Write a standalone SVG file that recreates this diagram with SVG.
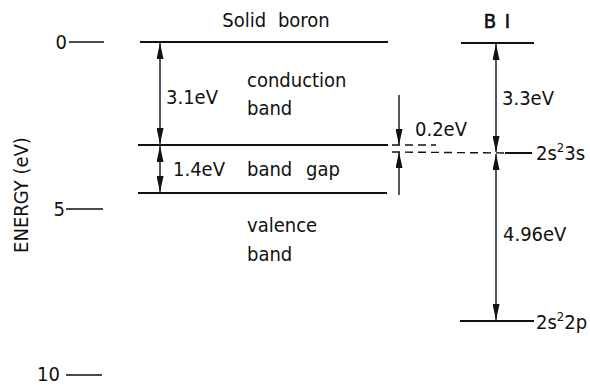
<svg xmlns="http://www.w3.org/2000/svg" width="590" height="385" viewBox="0 0 590 385">
<defs>
<style>
text{font-family:"DejaVu Sans Condensed","DejaVu Sans",sans-serif;font-size:20px;fill:#111;font-stretch:condensed}
.ln{stroke:#111;stroke-width:2;fill:none}
.ar{stroke:#111;stroke-width:1.4;fill:none}
.ds{stroke:#111;stroke-width:1.4;fill:none;stroke-dasharray:8 5}
</style>
<marker id="ah" viewBox="0 0 16 7" refX="16" refY="3.5" markerWidth="16" markerHeight="7" markerUnits="userSpaceOnUse" orient="auto-start-reverse">
<path d="M0,0 L16,3.5 L0,7 Z" fill="#111"/>
</marker>
</defs>
<rect width="590" height="385" fill="#fff"/>
<g id="axis">
<text x="22" y="195" text-anchor="middle" transform="rotate(-90 22 195)" dominant-baseline="middle" font-size="19">ENERGY (eV)</text>
<text x="67" y="49" text-anchor="end">0</text>
<line class="ar" x1="69" y1="42" x2="104" y2="42"/>
<text x="65" y="216" text-anchor="end">5</text>
<line class="ar" x1="66" y1="209" x2="103" y2="209"/>
<text x="60" y="381" text-anchor="end" font-size="19">10</text>
<line class="ar" x1="66" y1="375" x2="102" y2="375"/>
</g>
<g id="solid-boron">
<text x="276" y="27" text-anchor="middle" word-spacing="6">Solid boron</text>
<line class="ln" x1="140" y1="42" x2="388" y2="42"/>
<line class="ln" x1="138" y1="145" x2="388" y2="145"/>
<line class="ln" x1="138" y1="193" x2="387" y2="193"/>
<text x="247" y="87">conduction</text>
<text x="247" y="115">band</text>
<text x="247" y="176" word-spacing="8">band gap</text>
<text x="247" y="232">valence</text>
<text x="247" y="261">band</text>
<text x="166" y="104">3.1eV</text>
<text x="173" y="176">1.4eV</text>
</g>
<g id="boron-atom">
<text x="497" y="28" text-anchor="middle" stroke="#111" stroke-width="0.6" word-spacing="3">B I</text>
<line class="ln" x1="461" y1="43" x2="534" y2="43"/>
<line class="ln" x1="505" y1="153" x2="532" y2="153"/>
<line class="ln" x1="460" y1="321" x2="534" y2="321"/>
<text x="536" y="160">2s<tspan font-size="13" dy="-8">2</tspan><tspan dy="8">3s</tspan></text>
<text x="536" y="329">2s<tspan font-size="13" dy="-8">2</tspan><tspan dy="8">2p</tspan></text>
<text x="502" y="105">3.3eV</text>
<text x="503" y="241">4.96eV</text>
<text x="415" y="136">0.2eV</text>
</g>
<g id="connectors">
<line class="ar" x1="160" y1="43" x2="160" y2="144" marker-start="url(#ah)" marker-end="url(#ah)"/>
<line class="ar" x1="160" y1="146" x2="160" y2="192" marker-start="url(#ah)" marker-end="url(#ah)"/>
<line class="ar" x1="399" y1="95" x2="399" y2="145" marker-end="url(#ah)"/>
<line class="ar" x1="399" y1="195" x2="399" y2="152" marker-end="url(#ah)"/>
<line class="ds" x1="392" y1="145" x2="436" y2="145"/>
<line class="ds" x1="392" y1="152" x2="505" y2="153"/>
<line class="ar" x1="496" y1="44" x2="496" y2="152" marker-start="url(#ah)" marker-end="url(#ah)"/>
<line class="ar" x1="496" y1="154" x2="496" y2="320" marker-start="url(#ah)" marker-end="url(#ah)"/>
</g>
</svg>
